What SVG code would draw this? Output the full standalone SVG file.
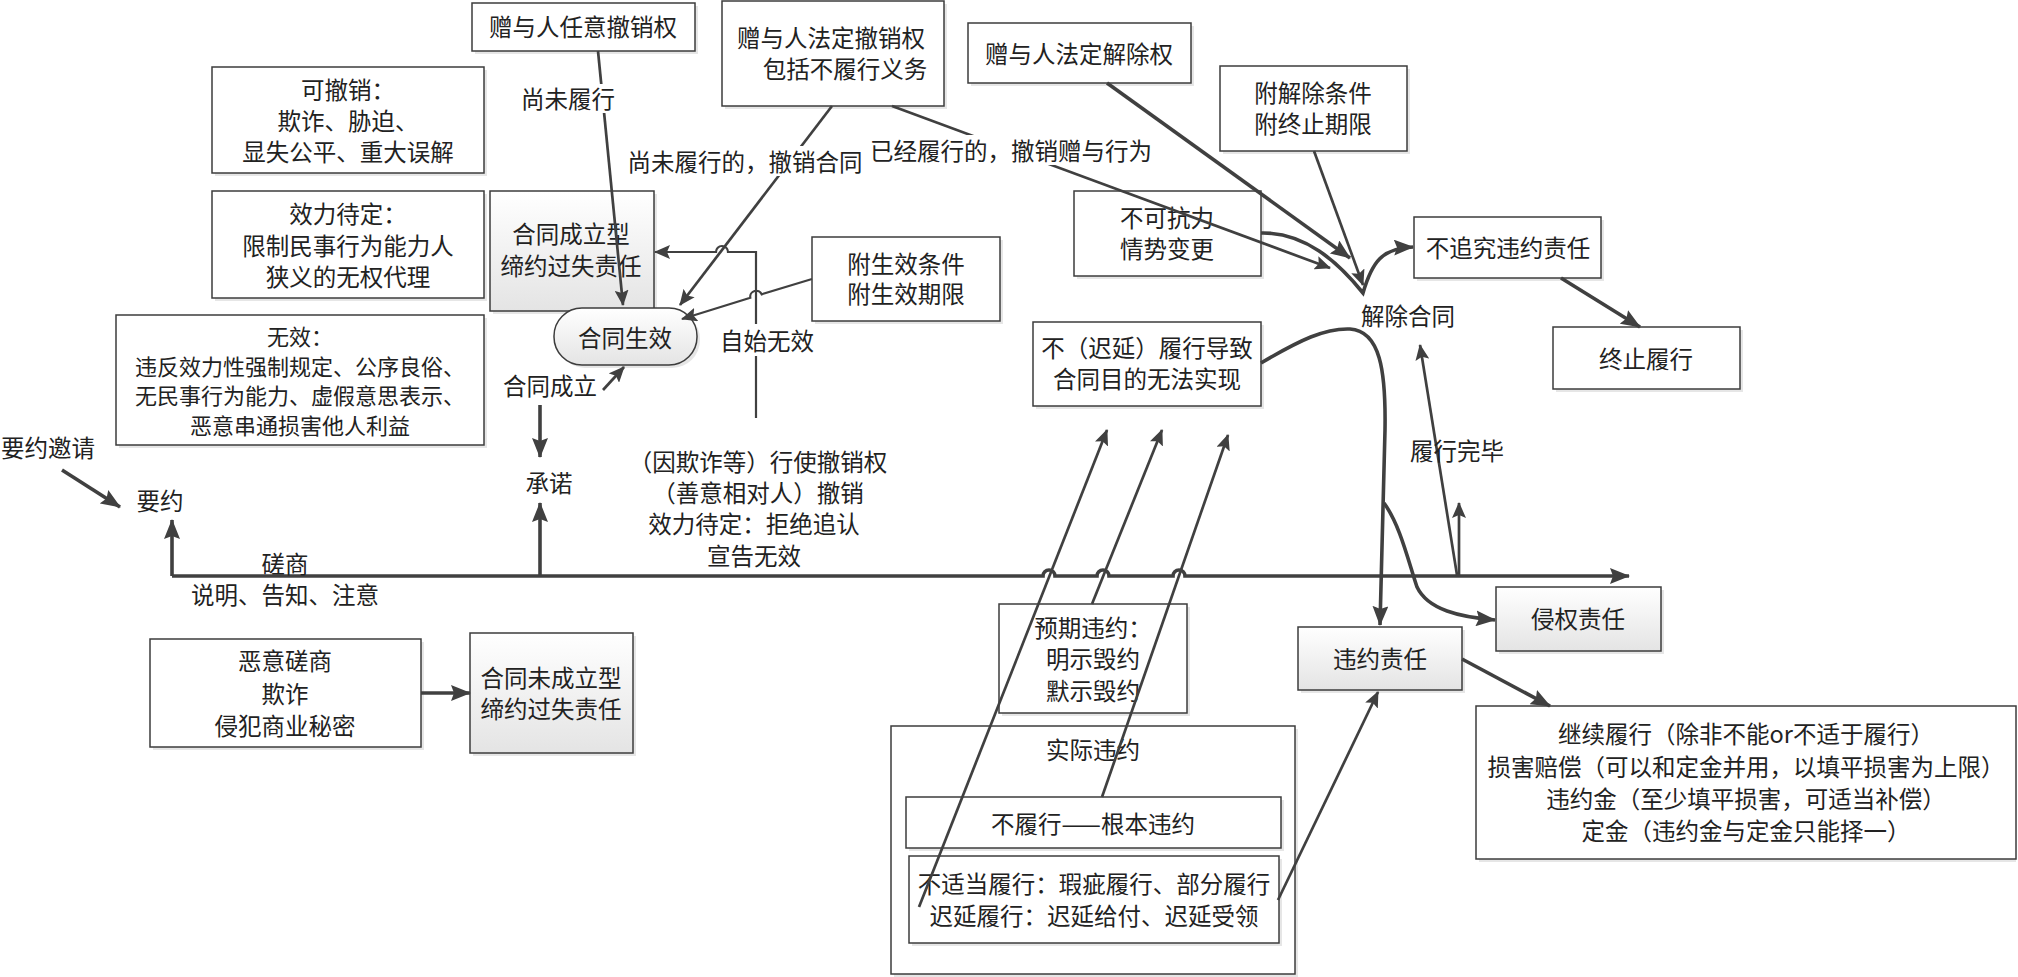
<svg xmlns="http://www.w3.org/2000/svg" width="2018" height="977" viewBox="0 0 2018 977">
<style>
.box{fill:#fff;stroke:#3c3c3c;stroke-width:1.5}
.gbox{fill:url(#gr);stroke:#3c3c3c;stroke-width:1.5}
.sh{fill:#e6e6e6}
.t{font-family:'Noto Sans CJK SC','Noto Sans CJK JP',sans-serif;font-size:23.5px;fill:#222;text-anchor:middle;dominant-baseline:central}
.s{font-size:22px}
.c{fill:none;stroke:#404040;stroke-width:2.7;marker-end:url(#ah)}
.thin{stroke-width:2.2}
.main{stroke-width:3.6;marker-end:url(#ahL)}
.bg{fill:#fff}
</style>
<defs>
<linearGradient id="gr" x1="0" y1="0" x2="0" y2="1">
<stop offset="0" stop-color="#ffffff"/>
<stop offset="1" stop-color="#e4e4e4"/>
</linearGradient>
<marker id="ah" markerUnits="userSpaceOnUse" viewBox="0 0 16 14" markerWidth="16" markerHeight="14" refX="15" refY="7" orient="auto">
<path d="M0,0 L16,7 L0,14 L3,7 z" fill="#404040"/>
</marker>
<marker id="ahL" markerUnits="userSpaceOnUse" viewBox="0 0 20 16" markerWidth="20" markerHeight="16" refX="19" refY="8" orient="auto">
<path d="M0,0 L20,8 L0,16 L3,8 z" fill="#404040"/>
</marker>
</defs>
<rect width="2018" height="977" fill="#fff"/>

<g id="n-renyi"><rect class="sh" x="475" y="6" width="223" height="48"/><rect class="box" x="472" y="3" width="223" height="48"/><text class="t" x="583" y="26">赠与人任意撤销权</text></g>
<g id="n-fading-chexiao"><rect class="sh" x="725" y="4" width="222" height="105"/><rect class="box" x="722" y="1" width="222" height="105"/><text class="t" x="831" y="37">赠与人法定撤销权</text><text class="t" x="845" y="68">包括不履行义务</text></g>
<g id="n-fading-jiechu"><rect class="sh" x="971" y="26" width="223" height="60"/><rect class="box" x="968" y="23" width="223" height="60"/><text class="t" x="1079" y="53">赠与人法定解除权</text></g>
<g id="n-fujiechu"><rect class="sh" x="1223" y="69" width="187" height="85"/><rect class="box" x="1220" y="66" width="187" height="85"/><text class="t" x="1313" y="92">附解除条件</text><text class="t" x="1313" y="123">附终止期限</text></g>
<g id="n-kechexiao"><rect class="sh" x="215" y="70" width="272" height="106"/><rect class="box" x="212" y="67" width="272" height="106"/><text class="t" x="348" y="89">可撤销：</text><text class="t" x="348" y="120">欺诈、胁迫、</text><text class="t" x="348" y="151">显失公平、重大误解</text></g>
<g id="n-xiaolidaiding"><rect class="sh" x="215" y="194" width="272" height="107"/><rect class="box" x="212" y="191" width="272" height="107"/><text class="t" x="348" y="213">效力待定：</text><text class="t" x="348" y="245">限制民事行为能力人</text><text class="t" x="348" y="276">狭义的无权代理</text></g>
<g id="n-wuxiao"><rect class="sh" x="119" y="318" width="368" height="130"/><rect class="box" x="116" y="315" width="368" height="130"/><text class="t s" x="300" y="335">无效：</text><text class="t s" x="300" y="364.5">违反效力性强制规定、公序良俗、</text><text class="t s" x="300" y="394">无民事行为能力、虚假意思表示、</text><text class="t s" x="300" y="423.5">恶意串通损害他人利益</text></g>
<g id="n-chengli-zeren"><rect class="sh" x="493" y="194" width="164" height="120"/><rect class="gbox" x="490" y="191" width="164" height="120"/><text class="t" x="571" y="233">合同成立型</text><text class="t" x="571" y="265">缔约过失责任</text></g>
<g id="n-shengxiao"><rect class="sh" x="557" y="311" width="143" height="57" rx="28"/><rect class="gbox" x="554" y="308" width="143" height="57" rx="28"/><text class="t" x="625" y="337">合同生效</text></g>
<g id="n-fushengxiao"><rect class="sh" x="815" y="240" width="188" height="84"/><rect class="box" x="812" y="237" width="188" height="84"/><text class="t" x="906" y="263">附生效条件</text><text class="t" x="906" y="293">附生效期限</text></g>
<g id="n-bukekangli"><rect class="sh" x="1077" y="194" width="187" height="85"/><rect class="box" x="1074" y="191" width="187" height="85"/><text class="t" x="1167" y="217">不可抗力</text><text class="t" x="1167" y="248">情势变更</text></g>
<g id="n-buluxing"><rect class="sh" x="1036" y="325" width="228" height="84"/><rect class="box" x="1033" y="322" width="228" height="84"/><text class="t" x="1147" y="347">不（迟延）履行导致</text><text class="t" x="1147" y="378">合同目的无法实现</text></g>
<g id="n-buzhuijiu"><rect class="sh" x="1417" y="220" width="187" height="61"/><rect class="box" x="1414" y="217" width="187" height="61"/><text class="t" x="1508" y="247">不追究违约责任</text></g>
<g id="n-zhongzhi"><rect class="sh" x="1556" y="330" width="187" height="62"/><rect class="box" x="1553" y="327" width="187" height="62"/><text class="t" x="1646" y="358">终止履行</text></g>
<g id="n-qinquan"><rect class="sh" x="1499" y="590" width="165" height="64"/><rect class="gbox" x="1496" y="587" width="165" height="64"/><text class="t" x="1578" y="618">侵权责任</text></g>
<g id="n-weiyue"><rect class="sh" x="1301" y="630" width="164" height="63"/><rect class="gbox" x="1298" y="627" width="164" height="63"/><text class="t" x="1380" y="658">违约责任</text></g>
<g id="n-jixu"><rect class="sh" x="1479" y="709" width="537" height="153"/><rect class="box" x="1476" y="706" width="540" height="153"/><text class="t" x="1746" y="733">继续履行（除非不能or不适于履行）</text><text class="t" x="1746" y="766">损害赔偿（可以和定金并用，以填平损害为上限）</text><text class="t" x="1746" y="798">违约金（至少填平损害，可适当补偿）</text><text class="t" x="1746" y="830">定金（违约金与定金只能择一）</text></g>
<g id="n-yuqi"><rect class="sh" x="1002" y="607" width="188" height="109"/><rect class="box" x="999" y="604" width="188" height="109"/><text class="t" x="1093" y="627">预期违约：</text><text class="t" x="1093" y="658">明示毁约</text><text class="t" x="1093" y="690">默示毁约</text></g>
<g id="n-shiji"><rect class="sh" x="894" y="729" width="404" height="248"/><rect class="box" x="891" y="726" width="404" height="248"/><text class="t" x="1093" y="749">实际违约</text></g>
<g id="n-genben"><rect class="sh" x="909" y="800" width="375" height="51"/><rect class="box" x="906" y="797" width="375" height="51"/><text class="t" x="1093" y="823">不履行——根本违约</text></g>
<g id="n-budangdang"><rect class="sh" x="912" y="859" width="370" height="87"/><rect class="box" x="909" y="856" width="370" height="87"/><text class="t" x="1094" y="883">不适当履行：瑕疵履行、部分履行</text><text class="t" x="1094" y="915">迟延履行：迟延给付、迟延受领</text></g>
<g id="n-eyi"><rect class="sh" x="153" y="642" width="271" height="108"/><rect class="box" x="150" y="639" width="271" height="108"/><text class="t" x="285" y="660">恶意磋商</text><text class="t" x="285" y="693">欺诈</text><text class="t" x="285" y="725">侵犯商业秘密</text></g>
<g id="n-weichengli"><rect class="sh" x="473" y="636" width="163" height="120"/><rect class="gbox" x="470" y="633" width="163" height="120"/><text class="t" x="551" y="677">合同未成立型</text><text class="t" x="551" y="708">缔约过失责任</text></g>

<g id="connectors">
<path class="c" d="M598,51 L623,305"/>
<path class="c" d="M832,106 L680,305"/>
<path class="c" d="M892,106 L1330,268"/>
<path class="c thin" d="M756,418 L756,252 L728,252 A6,6 0 0 0 716,252 L655,252"/>
<path class="c thin" d="M812,279 L761.7,294.3 A6,6 0 0 0 750.3,297.7 L682,319"/>
<path class="c" d="M603,390 L624,367"/>
<path class="c main" d="M540,405 L540,457"/>
<path class="c main" d="M540,576 L540,503"/>
<path class="c main" d="M62,470 L120,507"/>
<path class="c main" d="M172,576 L172,520"/>
<path class="c main" d="M172,576 L1043,576 A6,6 0 0 1 1055,576 L1097,576 A6,6 0 0 1 1109,576 L1173,576 A6,6 0 0 1 1185,576 L1629,576"/>
<path class="c main" d="M421,693 L470,693"/>
<path class="c" d="M919,907 L1107,430"/>
<path class="c" d="M1092,604 L1162,430"/>
<path class="c" d="M1102,797 L1228,435"/>
<path class="c" d="M1278,900 L1378,692"/>
<path class="c main" d="M1462,659 L1550,706"/>
<path class="c main" d="M1561,278 L1640,327"/>
<path class="c main" d="M1107,83 L1350,258"/>
<path class="c" d="M1314,151 L1363,285"/>
<path class="c main" d="M1261,233 C1305,232 1338,262 1363,293 C1372,262 1382,248 1413,247"/>
<path class="c main" d="M1261,363 C1300,340 1325,328 1350,329 C1380,331 1386,370 1385,430 L1380,625"/>
<path class="c main" d="M1384,503 C1400,525 1408,560 1417,587 C1428,610 1460,617 1495,620"/>
<path class="c" d="M1457,575 L1420,345"/>
<path class="c" d="M1459,575 L1459,503"/>
</g>

<g id="labels">
<rect class="bg" x="522" y="84" width="92" height="29"/><text class="t" x="568" y="98">尚未履行</text>
<rect class="bg" x="627" y="146" width="236" height="30"/><text class="t" x="745" y="161">尚未履行的，撤销合同</text>
<rect class="bg" x="868" y="135" width="286" height="30"/><text class="t" x="1011" y="150">已经履行的，撤销赠与行为</text>
<rect class="bg" x="720" y="324" width="95" height="32"/><text class="t" x="767" y="340">自始无效</text>
<text class="t" x="550" y="385">合同成立</text>
<text class="t" x="549" y="482">承诺</text>
<text class="t" x="48" y="447">要约邀请</text>
<text class="t" x="160" y="500">要约</text>
<text class="t" x="285" y="563">磋商</text>
<text class="t" x="285" y="594">说明、告知、注意</text>
<text class="t" x="758" y="461">（因欺诈等）行使撤销权</text>
<text class="t" x="758" y="492">（善意相对人）撤销</text>
<text class="t" x="754" y="523">效力待定：拒绝追认</text>
<text class="t" x="754" y="555">宣告无效</text>
<text class="t" x="1408" y="315">解除合同</text>
<text class="t" x="1457" y="450">履行完毕</text>
</g>
</svg>
